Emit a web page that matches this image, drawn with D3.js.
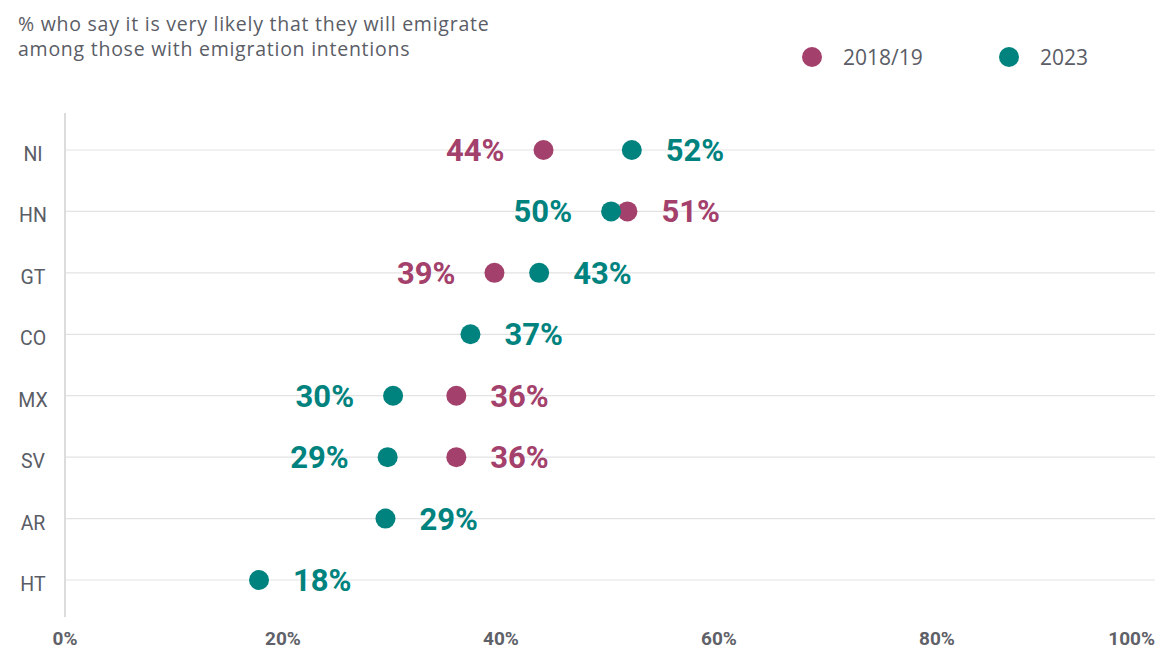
<!DOCTYPE html>
<html><head><meta charset="utf-8">
<script src="https://cdn.jsdelivr.net/npm/d3@7"></script>
<style>body{margin:0;background:#fff;}svg{display:block;}</style>
</head><body>
<svg id="c" width="1163" height="651"></svg>
<script>
const categories = ["NI","HN","GT","CO","MX","SV","AR","HT"];
const values2018 = [43.9, 51.6, 39.4, null, 35.9, 35.9, null, null];
const values2023 = [52.0, 50.1, 43.5, 37.2, 30.1, 29.6, 29.4, 17.8];
const labels2018 = ["44%","51%","39%",null,"36%","36%",null,null];
const labels2023 = ["52%","50%","43%","37%","30%","29%","29%","18%"];
const xTicks = [0,20,40,60,80,100];
const seriesNames = ["2018/19","2023"];
const colors = ["#a3406b","#00837e"];

const svg = d3.select("#c");
const x = d3.scaleLinear().domain([0,100]).range([65,1155]);
const y = d3.scalePoint().domain(categories).range([150,580]);

// title
const title = svg.append("text").attr("fill","#5a5d66")
  .style("font-family","'Open Sans', sans-serif").style("font-size","19.5px").style("letter-spacing","0.75px");
title.append("tspan").attr("x",18).attr("y",31).text("% who say it is very likely that they will emigrate");
title.append("tspan").attr("x",18).attr("y",56).text("among those with emigration intentions");

// legend
const legX = [812, 1009];
seriesNames.forEach((s,i)=>{
  svg.append("circle").attr("cx",legX[i]).attr("cy",57).attr("r",10).attr("fill",colors[i]);
  svg.append("text").attr("x",legX[i]+31).attr("y",65).attr("fill","#5a5d66")
    .style("font-family","'Open Sans', sans-serif").style("font-size","21px").text(s);
});

// gridlines
svg.append("g").selectAll("line").data(categories).join("line")
  .attr("x1",x(0)).attr("x2",x(100)).attr("y1",d=>y(d)).attr("y2",d=>y(d))
  .attr("stroke","#e3e3e3").attr("stroke-width",1.2);
// vertical axis line
svg.append("line").attr("x1",x(0)).attr("x2",x(0)).attr("y1",113).attr("y2",617)
  .attr("stroke","#dcdcdc").attr("stroke-width",2);

// y labels
svg.append("g").selectAll("text").data(categories).join("text")
  .attr("x",33).attr("y",d=>y(d)+11).attr("text-anchor","middle").attr("fill","#5a5d66")
  .style("font-family","Roboto, sans-serif").style("font-size","19.5px").text(d=>d);

// x tick labels
svg.append("g").selectAll("text").data(xTicks).join("text")
  .attr("x",d=>x(d)).attr("y",645)
  .attr("text-anchor",d=>d===100?"end":"middle").attr("fill","#5f6168")
  .style("font-family","Roboto, sans-serif").style("font-weight","bold").style("font-size","19px")
  .text(d=>d+"%");

// points and labels
const rows = categories.map((c,i)=>({c, a:values2018[i], b:values2023[i], la:labels2018[i], lb:labels2023[i]}));
const g = svg.append("g");
rows.forEach(r=>{
  const pts = [];
  if (r.a!=null) pts.push({v:r.a, lab:r.la, col:colors[0]});
  if (r.b!=null) pts.push({v:r.b, lab:r.lb, col:colors[1]});
  const maxV = d3.max(pts,p=>p.v);
  pts.forEach(p=>{
    g.append("circle").attr("cx",x(p.v)).attr("cy",y(r.c)).attr("r",10).attr("fill",p.col);
  });
  pts.forEach(p=>{
    const right = (p.v===maxV);
    g.append("text").attr("x", right? x(p.v)+34 : x(p.v)-39).attr("y",y(r.c)+11)
      .attr("text-anchor", right?"start":"end").attr("fill",p.col)
      .style("font-family","Roboto, sans-serif").style("font-weight","bold").style("font-size","31px")
      .text(p.lab);
  });
});
</script>
</body></html>
